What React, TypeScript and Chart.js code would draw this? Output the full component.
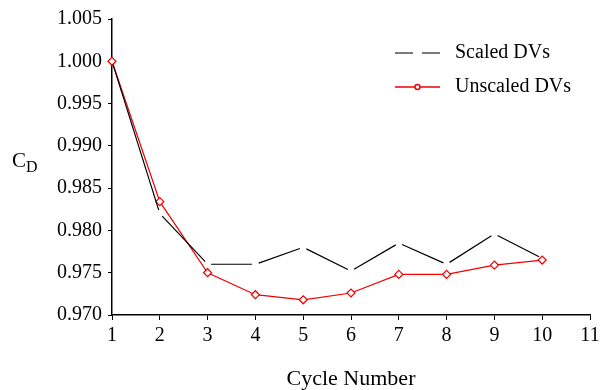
import React, { useEffect, useRef } from "react";
import { Chart, registerables } from "chart.js";

Chart.register(...registerables);

const cycles = [1, 2, 3, 4, 5, 6, 7, 8, 9, 10];
const scaledDVs = [1.0, 0.982, 0.976, 0.976, 0.978, 0.9752, 0.9785, 0.976, 0.9796, 0.9767];
const unscaledDVs = [1.0, 0.9834, 0.975, 0.9724, 0.9718, 0.9726, 0.9748, 0.9748, 0.9759, 0.9765];
const xTicks = [1, 2, 3, 4, 5, 6, 7, 8, 9, 10, 11];
const yTicks = [0.97, 0.975, 0.98, 0.985, 0.99, 0.995, 1.0, 1.005];
const seriesNames = ["Scaled DVs", "Unscaled DVs"];
const xTitle = "Cycle Number";
const yTitleMain = "C";
const yTitleSub = "D";

const FONT = "'Liberation Serif', 'DejaVu Serif', serif";
const GAP = 3.5;
const RED = "#f00000";

const annotations = {
  id: "annotations",
  afterDraw(chart: any) {
    const ctx = chart.ctx as CanvasRenderingContext2D;
    const area = chart.chartArea;
    ctx.save();
    ctx.fillStyle = "#000";
    // x title
    ctx.font = `22px ${FONT}`;
    ctx.textAlign = "center";
    ctx.textBaseline = "alphabetic";
    ctx.fillText(xTitle, (area.left + area.right) / 2, 385);
    // y title C_D
    ctx.textAlign = "left";
    ctx.font = `21px ${FONT}`;
    ctx.fillText(yTitleMain, 12, 167);
    const cw = ctx.measureText(yTitleMain).width;
    ctx.font = `16px ${FONT}`;
    ctx.fillText(yTitleSub, 12 + cw, 172);

    // legend
    const lx0 = 395, lx1 = 440, tx = 455;
    const y1 = 53, y2 = 87;
    ctx.strokeStyle = "#7a7a7a";
    ctx.lineWidth = 2;
    ctx.beginPath();
    ctx.moveTo(lx0, y1); ctx.lineTo(lx0 + 18, y1);
    ctx.moveTo(lx1 - 18, y1); ctx.lineTo(lx1, y1);
    ctx.stroke();
    ctx.strokeStyle = RED;
    ctx.lineWidth = 1.5;
    ctx.beginPath();
    ctx.moveTo(lx0, y2); ctx.lineTo(lx1, y2);
    ctx.stroke();
    ctx.beginPath();
    ctx.fillStyle = "#fff";
    ctx.arc((lx0 + lx1) / 2, y2, 2.5, 0, Math.PI * 2);
    ctx.fill();
    ctx.stroke();
    ctx.fillStyle = "#000";
    ctx.font = `20px ${FONT}`;
    ctx.textBaseline = "middle";
    ctx.fillText(seriesNames[0], tx, y1);
    ctx.fillText(seriesNames[1], tx, y2);
    ctx.restore();
  },
};

export default function App() {
  const ref = useRef<HTMLCanvasElement | null>(null);
  useEffect(() => {
    if (!ref.current) return;
    const chart = new Chart(ref.current, {
      type: "line",
      data: {
        datasets: [
          {
            label: seriesNames[0],
            data: cycles.map((c, i) => ({ x: c, y: scaledDVs[i] })),
            borderColor: "#000",
            borderWidth: 1.2,
            pointRadius: 0,
            fill: false,
            clip: false as any,
            segment: {
              borderDash: (ctx: any) => {
                const L = Math.hypot(ctx.p1.x - ctx.p0.x, ctx.p1.y - ctx.p0.y);
                return [Math.max(L - 2 * GAP, 0), 2 * GAP];
              },
              borderDashOffset: () => -GAP,
            },
          },
          {
            label: seriesNames[1],
            data: cycles.map((c, i) => ({ x: c, y: unscaledDVs[i] })),
            borderColor: RED,
            borderWidth: 1.2,
            pointStyle: "rectRot",
            pointRadius: 4,
            pointBorderWidth: 1.2,
            pointBackgroundColor: "#fff",
            pointBorderColor: RED,
            fill: false,
            clip: false as any,
          },
        ],
      },
      options: {
        animation: false,
        responsive: false,
        events: [],
        layout: { padding: { top: 19, right: 15, left: 0, bottom: 0 } },
        plugins: { legend: { display: false }, tooltip: { enabled: false } },
        scales: {
          x: {
            type: "linear",
            min: 1,
            max: 11,
            afterBuildTicks: (s: any) => {
              s.ticks = xTicks.map((v) => ({ value: v }));
            },
            afterFit: (s: any) => {
              s.height = 75;
            },
            ticks: {
              color: "#000",
              font: { family: FONT, size: 20 },
              padding: 4,
              maxRotation: 0,
              autoSkip: false,
              callback: (v: any) => String(v),
            },
            grid: { drawOnChartArea: false, drawTicks: true, tickLength: 5, color: "#000", lineWidth: 1 },
            border: { display: true, color: "#000", width: 1.5 },
          },
          y: {
            type: "linear",
            min: 0.97,
            max: 1.005,
            afterBuildTicks: (s: any) => {
              s.ticks = yTicks.map((v) => ({ value: v }));
            },
            afterFit: (s: any) => {
              s.width = 112;
            },
            ticks: {
              color: "#000",
              font: { family: FONT, size: 20 },
              padding: 6,
              autoSkip: false,
              callback: (v: any) => Number(v).toFixed(3),
            },
            grid: { drawOnChartArea: false, drawTicks: true, tickLength: 4, color: "#000", lineWidth: 1 },
            border: { display: true, color: "#000", width: 1.5 },
          },
        },
      },
      plugins: [annotations],
    });
    return () => chart.destroy();
  }, []);
  return (
    <div style={{ position: "absolute", left: 0, top: 0, width: 605, height: 390, background: "#fff" }}>
      <canvas ref={ref} width={605} height={390} style={{ width: 605, height: 390 }} />
    </div>
  );
}
